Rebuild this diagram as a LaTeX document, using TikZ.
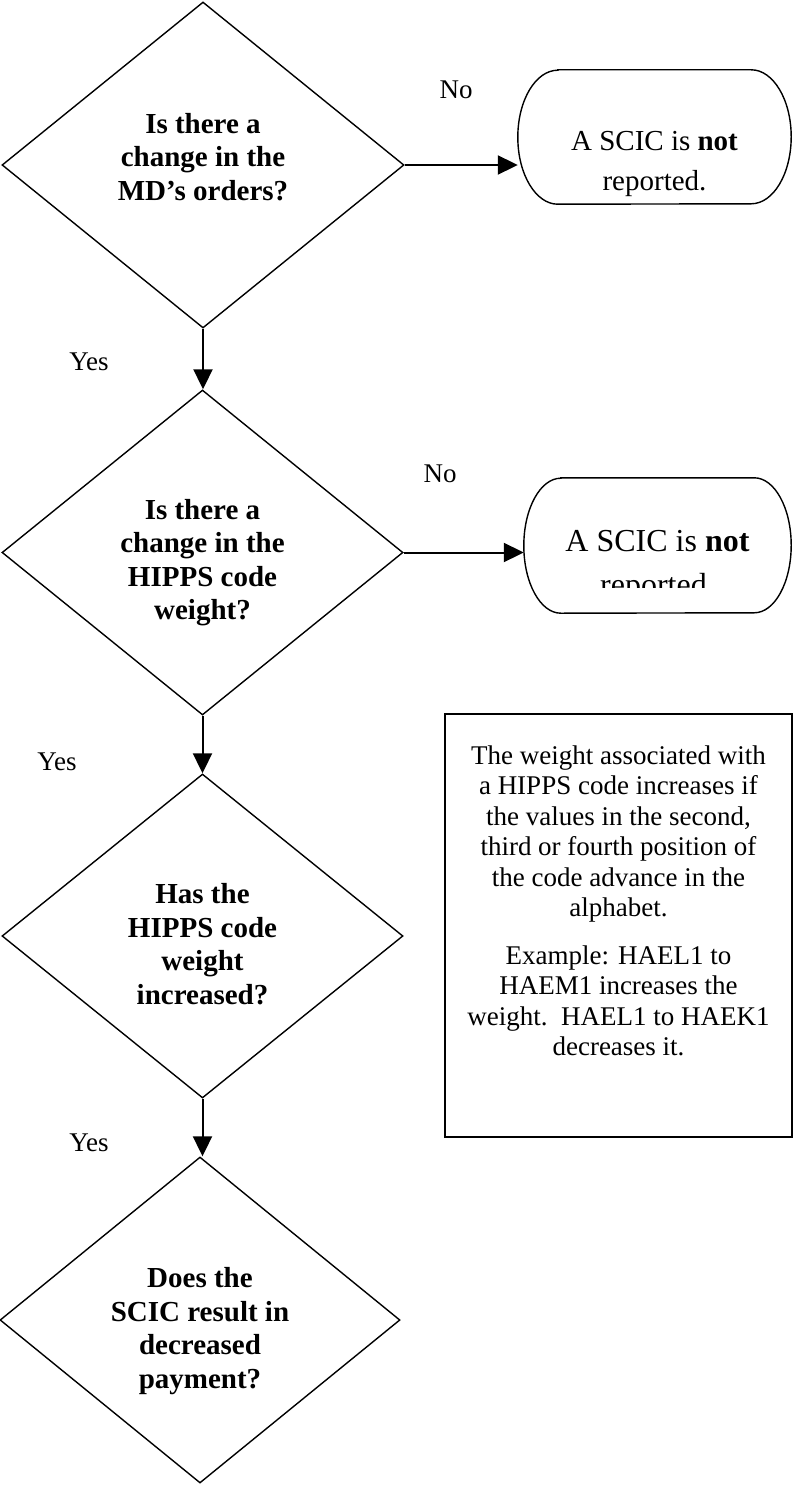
\documentclass[tikz,border=0pt]{standalone}
\usepackage{fontspec}
\setmainfont{Liberation Serif}
\usepackage{tikz}
\usetikzlibrary{shapes.geometric, arrows.meta, positioning, calc}

\begin{document}
\begin{tikzpicture}[x=1pt, y=-1pt, >=Stealth,
    decision/.style={diamond, draw, line width=1.4pt, minimum width=402pt, minimum height=326pt, inner sep=0pt},
    qtext/.style={align=center, font=\fontsize{29}{33.5}\selectfont\bfseries},
    stopbox/.style={rectangle, inner sep=0pt},
    stext/.style={align=center, font=\fontsize{29}{40}\selectfont},
    notebox/.style={rectangle, draw, line width=1.4pt, minimum width=347pt, minimum height=423pt, inner sep=0pt},
    ntext/.style={align=center, font=\fontsize{27}{30.5}\selectfont},
    answer/.style={font=\fontsize{27}{31}\selectfont},
    flow/.style={-{Triangle[length=20pt, width=19pt]}, line width=2pt}]
				\useasboundingbox (0,0) rectangle (793,1485);
				
				% Decisions
				\node[decision, label={[qtext, yshift=8pt]center:{Is there a\\change in the\\MD's orders?}}] (q1) at (203, 165) {};
				\node[decision, minimum width=401pt, minimum height=325pt, label={[qtext, yshift=-10pt]center:{Is there a\\change in the\\HIPPS code\\weight?}}] (q2) at (202.5, 552.5) {};
				\node[decision, minimum width=401pt, minimum height=324pt, label={[qtext, yshift=-8pt]center:{Has the\\HIPPS code\\weight\\increased?}}] (q3) at (202.5, 936) {};
				\node[decision, minimum width=400pt, label={[qtext, yshift=-11pt]center:{Does the\\SCIC result in\\decreased\\payment?}}] (q4) at (200, 1320) {};
				
				\draw[flow] (q1.south) -- (q1.south |- q2.north);
				\draw[flow] (q2.south) -- (q2.south |- q3.north);
				\draw[flow] (q3.south) -- (q3.south |- q4.north);
				
				% Not reported
				\node[stopbox, minimum width=273pt, minimum height=134pt, label={[stext, yshift=-27.4pt]center:{A SCIC is \textbf{not}\\reported.}}] (stop1) at (654.5, 137) {};
				\draw[line width=1.4pt] ([xshift=40pt]stop1.north west) -- ([xshift=-40pt]stop1.north east) arc[start angle=90, end angle=-90, x radius=40pt, y radius=67pt] -- ([xshift=40pt]stop1.south west) arc[start angle=270, end angle=90, x radius=40pt, y radius=67pt] -- cycle;
				
				\begin{scope}
					\clip (480, 470) rectangle (793, 587);
					\node[stopbox, minimum width=267pt, minimum height=135pt, label={[stext, font=\fontsize{32}{44}\selectfont, yshift=-21.2pt]center:{A SCIC is \textbf{not}\\reported.}}] (stop2) at (657.5, 545.5) {};
				\end{scope}
				\draw[line width=1.4pt] ([xshift=37pt]stop2.north west) -- ([xshift=-37pt]stop2.north east) arc[start angle=90, end angle=-90, x radius=37pt, y radius=67.5pt] -- ([xshift=37pt]stop2.south west) arc[start angle=270, end angle=90, x radius=37pt, y radius=67.5pt] -- cycle;
				
				\draw[flow] (q1.east) -- (q1.east -| stop1.west);
				\draw[flow] (q2.east) -- (q2.east -| stop2.west);
				
				% Answers
				\node[answer] (no1) at (456, 90) {No};
				\node[answer] (no2) at (440, 474) {No};
				\node[answer] (yes1) at (89, 362) {Yes};
				\node[answer] (yes2) at (57, 762) {Yes};
				\node[answer] (yes3) at (89, 1143) {Yes};
				
				% Note on weights
				\node[notebox, label={[ntext, yshift=24.7pt]center:{The weight associated with\\a HIPPS code increases if\\the values in the second,\\third or fourth position of\\the code advance in the\\alphabet.\\[17pt]Example: HAEL1 to\\HAEM1 increases the\\weight.\ \ HAEL1 to HAEK1\\decreases it.}}] (note) at (618.5, 925.5) {};
			\end{tikzpicture}
\end{document}
